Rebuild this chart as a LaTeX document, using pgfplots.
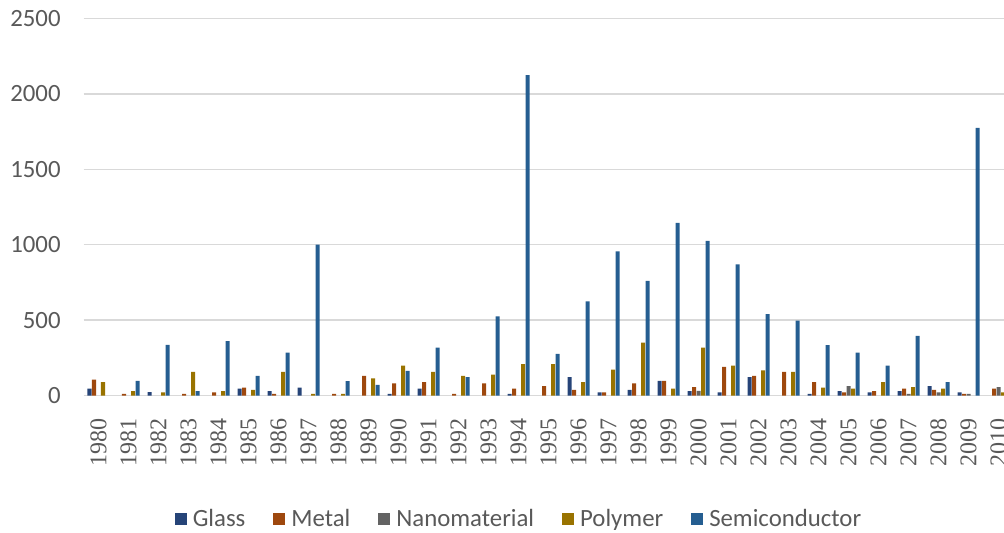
\documentclass[border=0pt]{standalone}
\usepackage{fontspec}
\usepackage{pgfplots}
\pgfplotsset{compat=1.18}
\newfontfamily\calibri{Carlito}
\newfontfamily\timesf{Liberation Serif}
\definecolor{cGlass}{HTML}{264478}
\definecolor{cMetal}{HTML}{9E480E}
\definecolor{cNano}{HTML}{636363}
\definecolor{cPoly}{HTML}{997300}
\definecolor{cSemi}{HTML}{255E91}
\definecolor{gridc}{HTML}{D9D9D9}
\definecolor{txt}{HTML}{595959}

\begin{document}
\begin{tikzpicture}
% page frame: the right-most year is cut by the page edge
\path[use as bounding box] (-41.8pt,-68.25pt) rectangle (460.2pt,197.75pt);
\clip (-41.8pt,-68.25pt) rectangle (460.2pt,197.75pt);
\begin{axis}[
  at={(0pt,0pt)}, anchor=south west,
  scale only axis, width=465pt, height=188.5pt,
  xmin=1979.5, xmax=2010.5, ymin=0, ymax=2500,
  ytick={0,500,...,2500},
  xtick={1980,...,2010},
  ybar=0.15pt, bar width=2.1pt,
  ymajorgrids, grid style={gridc, line width=0.75pt},
  axis line style={draw=none},
  major tick length=0pt,
  clip=false,
  /pgf/number format/.cd, assume math mode=true, 1000 sep={},
  /pgfplots/.cd,
  yticklabel style={font=\calibri\fontsize{12.4}{14}\selectfont, text=txt,
    anchor=east, inner sep=0pt, xshift=-11.3pt},
  xticklabel style={font=\timesf\fontsize{12}{14}\selectfont, text=txt,
    yshift=-11.5pt, rotate=90, anchor=east, inner sep=0pt},
  legend style={at={(0.4671,-0.3276)}, anchor=center, draw=none, fill=none,
    legend columns=-1, font=\calibri\fontsize{12.4}{14}\selectfont, text=txt,
    inner sep=0pt, nodes={inner sep=0pt},
    /tikz/every even column/.append style={column sep=14pt},
    /tikz/every odd column/.append style={column sep=3pt}},
  legend image code/.code={\fill[#1] (0pt,-3pt) rectangle (6pt,3pt);},
]
% Glass
\addplot[fill=cGlass, draw=none] coordinates {
  (1980,46) (1982,22) (1985,46) (1986,29) (1987,53) (1990,11) (1991,46)
  (1994,11) (1996,122) (1997,20) (1998,38) (1999,97) (2000,29) (2001,20)
  (2002,122) (2004,11) (2005,29) (2006,20) (2007,29) (2008,62) (2009,20)};
% Metal
\addplot[fill=cMetal, draw=none] coordinates {
  (1980,106) (1981,11) (1983,11) (1984,20) (1985,53) (1986,11) (1988,11)
  (1989,130) (1990,80) (1991,88) (1992,11) (1993,80) (1994,46) (1995,62)
  (1996,38) (1997,20) (1998,80) (1999,97) (2000,55) (2001,190) (2002,130)
  (2003,157) (2004,88) (2005,20) (2006,29) (2007,46) (2008,38) (2009,11)
  (2010,46)};
% Nanomaterial
\addplot[fill=cNano, draw=none] coordinates {
  (2000,31) (2005,62) (2007,11) (2008,20) (2009,11) (2010,55)};
% Polymer
\addplot[fill=cPoly, draw=none] coordinates {
  (1980,88) (1981,29) (1982,20) (1983,157) (1984,29) (1985,38) (1986,157)
  (1987,11) (1988,11) (1989,113) (1990,199) (1991,157) (1992,130) (1993,139)
  (1994,208) (1995,208) (1996,88) (1997,172) (1998,351) (1999,46) (2000,318)
  (2001,199) (2002,166) (2003,157) (2004,53) (2005,46) (2006,88) (2007,55)
  (2008,46) (2010,20)};
% Semiconductor
\addplot[fill=cSemi, draw=none] coordinates {
  (1981,97) (1982,336) (1983,29) (1984,360) (1985,130) (1986,285) (1987,1000)
  (1988,95) (1989,71) (1990,164) (1991,318) (1992,122) (1993,524) (1994,2125)
  (1995,276) (1996,625) (1997,955) (1998,760) (1999,1145) (2000,1025)
  (2001,870) (2002,539) (2003,497) (2004,334) (2005,285) (2006,199)
  (2007,396) (2008,88) (2009,1775)};
\legend{Glass,Metal,Nanomaterial,Polymer,Semiconductor}
\end{axis}
\end{tikzpicture}
\end{document}
